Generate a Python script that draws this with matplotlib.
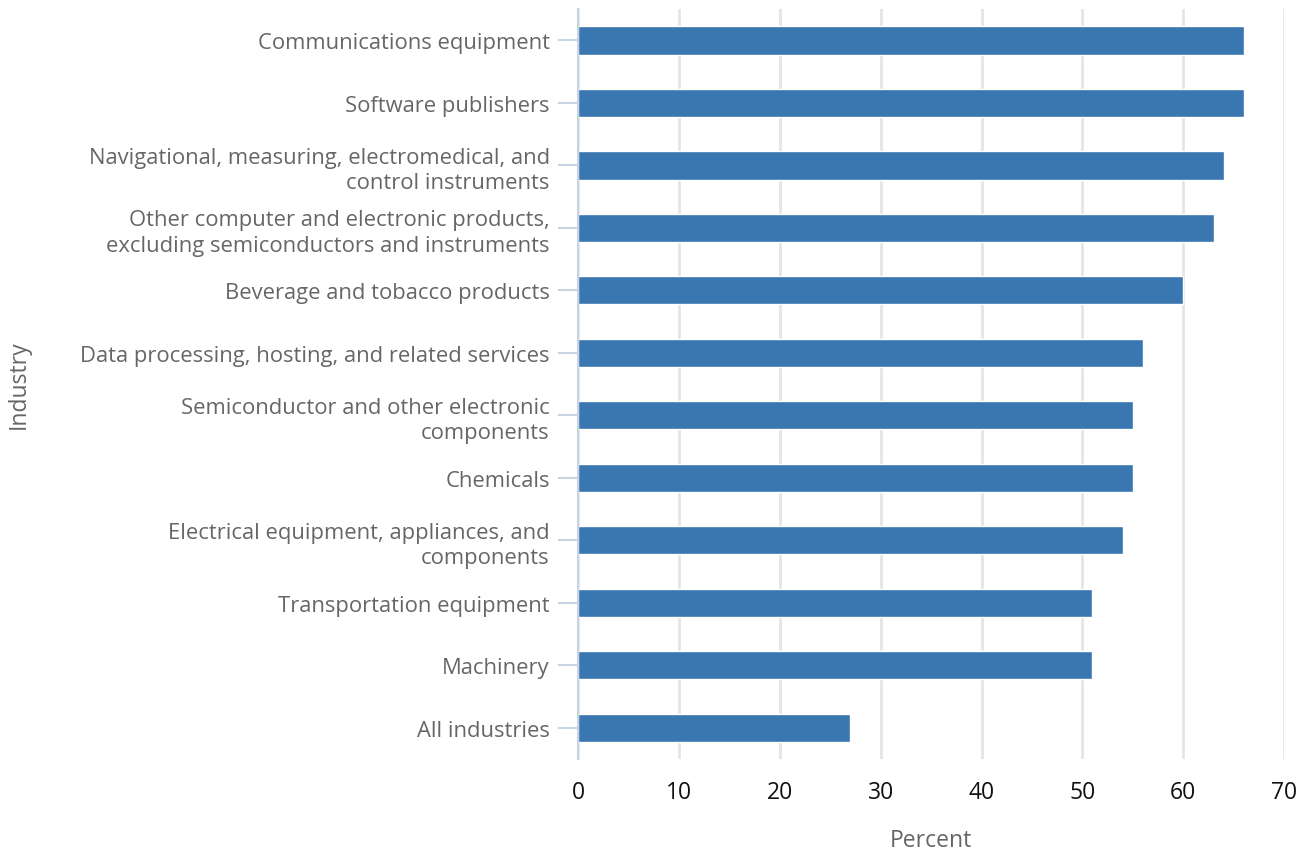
import matplotlib.pyplot as plt

industries = [
    "Communications equipment",
    "Software publishers",
    "Navigational, measuring, electromedical, and\ncontrol instruments",
    "Other computer and electronic products,\nexcluding semiconductors and instruments",
    "Beverage and tobacco products",
    "Data processing, hosting, and related services",
    "Semiconductor and other electronic\ncomponents",
    "Chemicals",
    "Electrical equipment, appliances, and\ncomponents",
    "Transportation equipment",
    "Machinery",
    "All industries",
]
percent = [66, 66, 64, 63, 60, 56, 55, 55, 54, 51, 51, 27]
xticks = [0, 10, 20, 30, 40, 50, 60, 70]

plt.rcParams['font.family'] = ['Open Sans', 'DejaVu Sans']

fig = plt.figure(figsize=(13.09, 8.54), dpi=100)
ax = fig.add_axes([0.4416, 0.110, 0.5394, 0.878])

pos = list(range(len(industries)))
ax.barh(pos, percent, height=0.45, color='#3a76b0', edgecolor='white',
        linewidth=1, zorder=3)

ax.set_ylim(11.5, -0.5)
ax.set_xlim(0, 70)
ax.set_xticks(xticks)
ax.set_yticks(pos)
ax.set_yticklabels(industries, fontsize=15.8, color='#666666', linespacing=1.28)
ax.set_xticklabels([str(t) for t in xticks], fontsize=16.5, color='#111111')

ax.tick_params(axis='y', length=14.4, width=1.5, color='#c8d4e3', pad=6)
ax.tick_params(axis='x', length=0, pad=15)

ax.grid(axis='x', color='#e5e5e5', linewidth=2, zorder=0)
ax.set_axisbelow(True)
for s in ['top', 'right', 'bottom']:
    ax.spines[s].set_visible(False)
ax.spines['left'].set_color('#c8d4e3')
ax.spines['left'].set_linewidth(1.5)
ax.spines['left'].set_zorder(4)

ax.set_xlabel('Percent', fontsize=16.5, color='#666666', labelpad=17)
ax.set_ylabel('Industry', fontsize=16.5, color='#666666')
ax.yaxis.set_label_coords(-0.775, 0.5)

fig.savefig('out.png', dpi=100, facecolor='white')
